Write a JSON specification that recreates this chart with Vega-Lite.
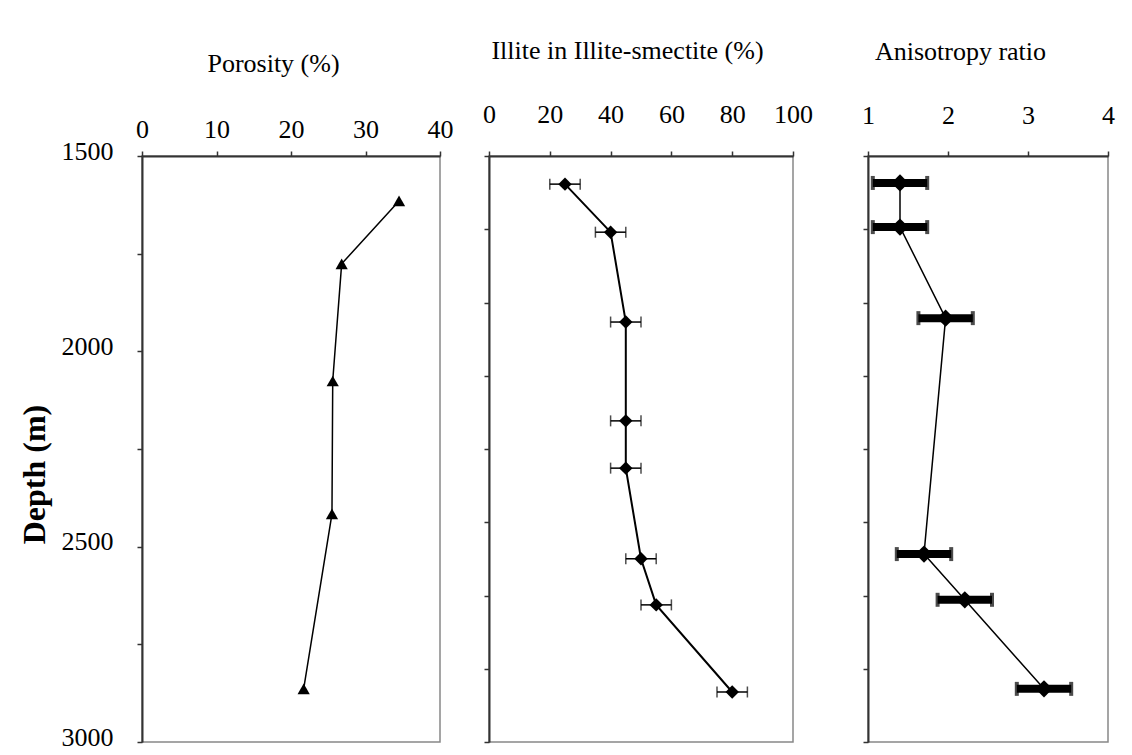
{
  "$schema": "https://vega.github.io/schema/vega-lite/v6.json",
  "background": "white",
  "padding": {"left": 17, "top": 36, "right": 5, "bottom": 2},
  "spacing": 15,
  "datasets": {
    "porosity": [
      {"depth": 1615, "porosity": 34.5},
      {"depth": 1776, "porosity": 26.8},
      {"depth": 2076, "porosity": 25.6},
      {"depth": 2416, "porosity": 25.5},
      {"depth": 2864, "porosity": 21.7}
    ],
    "illite": [
      {"depth": 1572, "illite": 25, "lo": 20, "hi": 30},
      {"depth": 1695, "illite": 40, "lo": 35, "hi": 45},
      {"depth": 1925, "illite": 45, "lo": 40, "hi": 50},
      {"depth": 2178, "illite": 45, "lo": 40, "hi": 50},
      {"depth": 2299, "illite": 45, "lo": 40, "hi": 50},
      {"depth": 2531, "illite": 50, "lo": 45, "hi": 55},
      {"depth": 2649, "illite": 55, "lo": 50, "hi": 60},
      {"depth": 2872, "illite": 80, "lo": 75, "hi": 85}
    ],
    "aniso": [
      {"depth": 1569, "ratio": 1.4, "lo": 1.06, "hi": 1.74},
      {"depth": 1682, "ratio": 1.4, "lo": 1.06, "hi": 1.74},
      {"depth": 1915, "ratio": 1.97, "lo": 1.63, "hi": 2.31},
      {"depth": 2519, "ratio": 1.7, "lo": 1.36, "hi": 2.04},
      {"depth": 2636, "ratio": 2.21, "lo": 1.87, "hi": 2.55},
      {"depth": 2864, "ratio": 3.2, "lo": 2.86, "hi": 3.54}
    ]
  },
  "hconcat": [
    {
      "width": 298,
      "height": 586,
      "data": {"name": "porosity"},
      "encoding": {
        "x": {"field": "porosity", "type": "quantitative", "title": "Porosity (%)",
          "scale": {"domain": [0, 40], "nice": false, "zero": false},
          "axis": {"orient": "top", "values": [0, 10, 20, 30, 40], "labelFlush": false, "labelPadding": 9, "titleX": 131, "titleY": -85, "titleBaseline": "alphabetic"}},
        "y": {"field": "depth", "type": "quantitative", "title": "Depth (m)",
          "scale": {"domain": [1500, 3000], "reverse": true, "nice": false, "zero": false},
          "axis": {"values": [1500, 1750, 2000, 2250, 2500, 2750, 3000], "format": "d",
            "labelExpr": "datum.value % 500 === 0 ? datum.label : ''", "labelPadding": 24, "labelOffset": -5,
            "titleFontWeight": "bold", "titleFontSize": 32, "titleX": -108, "titleY": 318, "titleBaseline": "middle"}}
      },
      "layer": [
        {"mark": {"type": "line", "color": "black", "strokeWidth": 1.5}, "encoding": {"order": {"field": "depth", "type": "quantitative"}}},
        {"mark": {"type": "point", "shape": "triangle-up", "filled": true, "color": "black", "opacity": 1, "size": 150}}
      ]
    },
    {
      "width": 304,
      "height": 586,
      "data": {"name": "illite"},
      "encoding": {
        "y": {"field": "depth", "type": "quantitative", "title": null,
          "scale": {"domain": [1500, 3000], "reverse": true, "nice": false, "zero": false},
          "axis": {"values": [1500, 1687.5, 1875, 2062.5, 2250, 2437.5, 2625, 2812.5, 3000], "labels": false, "minExtent": 18.5}}
      },
      "layer": [
        {"mark": {"type": "line", "color": "black", "strokeWidth": 2},
          "encoding": {
            "x": {"field": "illite", "type": "quantitative", "title": "Illite in Illite-smectite (%)",
              "scale": {"domain": [0, 100], "nice": false, "zero": false},
              "axis": {"orient": "top", "values": [0, 20, 40, 60, 80, 100], "labelFlush": false, "labelPadding": 24, "titleX": 138, "titleY": -98, "titleBaseline": "alphabetic"}},
            "order": {"field": "depth", "type": "quantitative"}}},
        {"mark": {"type": "rule", "color": "black", "strokeWidth": 1.5},
          "encoding": {"x": {"field": "lo", "type": "quantitative", "title": "Illite in Illite-smectite (%)"}, "x2": {"field": "hi"}}},
        {"mark": {"type": "tick", "orient": "vertical", "color": "black", "size": 11, "thickness": 1.5},
          "encoding": {"x": {"field": "lo", "type": "quantitative", "title": "Illite in Illite-smectite (%)"}}},
        {"mark": {"type": "tick", "orient": "vertical", "color": "black", "size": 11, "thickness": 1.5},
          "encoding": {"x": {"field": "hi", "type": "quantitative", "title": "Illite in Illite-smectite (%)"}}},
        {"mark": {"type": "point", "shape": "diamond", "filled": true, "color": "black", "opacity": 1, "size": 180},
          "encoding": {"x": {"field": "illite", "type": "quantitative", "title": "Illite in Illite-smectite (%)"}}}
      ]
    },
    {
      "width": 240,
      "height": 586,
      "data": {"name": "aniso"},
      "encoding": {
        "y": {"field": "depth", "type": "quantitative", "title": null,
          "scale": {"domain": [1500, 3000], "reverse": true, "nice": false, "zero": false},
          "axis": {"values": [1500, 1687.5, 1875, 2062.5, 2250, 2437.5, 2625, 2812.5, 3000], "labels": false, "minExtent": 37.5}}
      },
      "layer": [
        {"mark": {"type": "line", "color": "black", "strokeWidth": 1.5},
          "encoding": {
            "x": {"field": "ratio", "type": "quantitative", "title": "Anisotropy ratio",
              "scale": {"domain": [1, 4], "nice": false, "zero": false},
              "axis": {"orient": "top", "values": [1, 2, 3, 4], "format": "d", "labelFlush": false, "labelPadding": 23, "titleX": 92, "titleY": -97, "titleBaseline": "alphabetic"}},
            "order": {"field": "depth", "type": "quantitative"}}},
        {"mark": {"type": "rule", "color": "black", "strokeWidth": 8},
          "encoding": {"x": {"field": "lo", "type": "quantitative", "title": "Anisotropy ratio"}, "x2": {"field": "hi"}}},
        {"mark": {"type": "tick", "orient": "vertical", "color": "black", "size": 14, "thickness": 4},
          "encoding": {"x": {"field": "lo", "type": "quantitative", "title": "Anisotropy ratio"}}},
        {"mark": {"type": "tick", "orient": "vertical", "color": "black", "size": 14, "thickness": 4},
          "encoding": {"x": {"field": "hi", "type": "quantitative", "title": "Anisotropy ratio"}}},
        {"mark": {"type": "point", "shape": "diamond", "filled": true, "color": "black", "opacity": 1, "size": 300},
          "encoding": {"x": {"field": "ratio", "type": "quantitative", "title": "Anisotropy ratio"}}}
      ]
    }
  ],
  "config": {
    "font": "Liberation Serif",
    "axis": {
      "labelFont": "Liberation Serif", "titleFont": "Liberation Serif",
      "labelFontSize": 26, "titleFontSize": 26, "titleFontWeight": "normal",
      "labelColor": "black", "titleColor": "black",
      "domainColor": "#333", "tickColor": "#333", "domainWidth": 2, "tickWidth": 1.5, "tickSize": 5,
      "grid": false
    },
    "view": {"stroke": "#888", "strokeWidth": 1.5}
  }
}
